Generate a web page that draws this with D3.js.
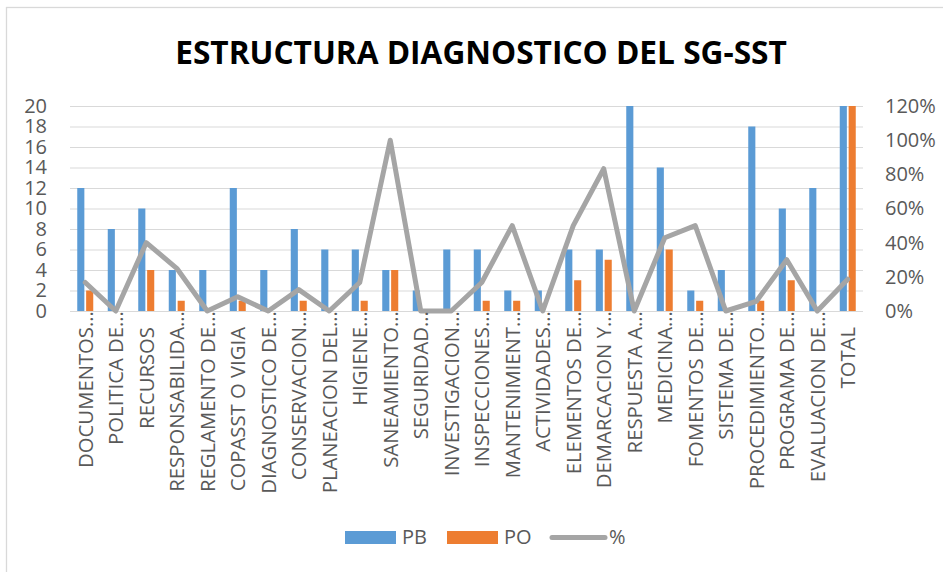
<!DOCTYPE html>
<html>
<head>
<meta charset="utf-8">
<script src="https://cdnjs.cloudflare.com/ajax/libs/d3/7.8.5/d3.min.js"></script>
<style>
  html, body { margin: 0; padding: 0; background: #fff; }
  svg { display: block; }
  text { font-family: "Open Sans", "DejaVu Sans", sans-serif; }
</style>
</head>
<body>
<svg id="chart" width="943" height="572"></svg>
<script>
// ---- data ----
const categories = [
  "DOCUMENTOS…", "POLITICA DE…", "RECURSOS", "RESPONSABILIDA…", "REGLAMENTO DE…",
  "COPASST O VIGIA", "DIAGNOSTICO DE…", "CONSERVACION…", "PLANEACION DEL…", "HIGIENE…",
  "SANEAMIENTO…", "SEGURIDAD…", "INVESTIGACION…", "INSPECCIONES…", "MANTENIMIENT…",
  "ACTIVIDADES…", "ELEMENTOS DE…", "DEMARCACION Y…", "RESPUESTA A…", "MEDICINA…",
  "FOMENTOS DE…", "SISTEMA DE…", "PROCEDIMIENTO…", "PROGRAMA DE…", "EVALUACION DE…", "TOTAL"
];
const pbValues = [12, 8, 10, 4, 4, 12, 4, 8, 6, 6, 4, 2, 6, 6, 2, 2, 6, 6, 20, 14, 2, 4, 18, 10, 12, 20];
const poValues = [2, 0, 4, 1, 0, 1, 0, 1, 0, 1, 4, 0, 0, 1, 1, 0, 3, 5, 0, 6, 1, 0, 1, 3, 0, 20];
const pctValues = [16.7, 0, 40, 25, 0, 8.3, 0, 12.5, 0, 16.7, 100, 0, 0, 16.7, 50, 0, 50, 83.3, 0, 42.9, 50, 0, 5.6, 30, 0, 18.6];
const leftTicks = [0, 2, 4, 6, 8, 10, 12, 14, 16, 18, 20];
const rightTicks = [0, 20, 40, 60, 80, 100, 120];
const seriesNames = ["PB", "PO", "%"];
const title = "ESTRUCTURA DIAGNOSTICO DEL SG-SST";

// ---- styles ----
const colPB = "#5B9BD5", colPO = "#ED7D31", colPct = "#A5A5A5";
const textCol = "#595959", gridCol = "#D9D9D9";

const svg = d3.select("#chart");
svg.append("rect").attr("width", 943).attr("height", 572).attr("fill", "#fff");
// chart frame (only top/left visible in the crop)
svg.append("rect").attr("x", 6.5).attr("y", 7.5).attr("width", 1000).attr("height", 1000)
  .attr("fill", "none").attr("stroke", gridCol).attr("stroke-width", 1.3);

const plot = { left: 70, right: 863, top: 106, bottom: 311 };

// title
const t = svg.append("text").attr("x", 481).attr("y", 64)
  .attr("text-anchor", "middle").attr("font-weight", "bold")
  .attr("font-size", 32).attr("fill", "#000").text(title);
const tw = t.node().getComputedTextLength();
t.attr("font-size", 32 * 612 / tw);

const x0 = d3.scaleBand().domain(categories).range([plot.left, plot.right]).padding(0);
const x1 = d3.scaleBand().domain(["PB", "PO"]).range([-8, 8]).paddingInner(0.2);
const yL = d3.scaleLinear().domain([0, 20]).range([plot.bottom, plot.top]);
const yR = d3.scaleLinear().domain([0, 120]).range([plot.bottom, plot.top]);

// gridlines
svg.append("g").selectAll("line").data(leftTicks).join("line")
  .attr("x1", plot.left).attr("x2", plot.right)
  .attr("y1", d => yL(d) + 0.5).attr("y2", d => yL(d) + 0.5)
  .attr("stroke", gridCol).attr("stroke-width", 1.2);

// left axis labels
const axL = svg.append("g").attr("transform", `translate(${plot.left - 23},0)`)
  .call(d3.axisLeft(yL).tickValues(leftTicks).tickSize(0).tickPadding(0));
axL.select(".domain").remove();
axL.selectAll("text").attr("font-size", 20).attr("fill", textCol)
  .attr("font-family", "'Open Sans', sans-serif");

// right axis labels
const axR = svg.append("g").attr("transform", `translate(${plot.right + 22},0)`)
  .call(d3.axisRight(yR).tickValues(rightTicks).tickSize(0).tickPadding(0).tickFormat(d => d + "%"));
axR.select(".domain").remove();
axR.selectAll("text").attr("font-size", 20).attr("fill", textCol)
  .attr("font-family", "'Open Sans', sans-serif");

// bars
const groups = svg.append("g").selectAll("g").data(categories).join("g")
  .attr("transform", d => `translate(${x0(d) + x0.bandwidth() / 2},0)`);
groups.append("rect")
  .attr("x", x1("PB")).attr("width", x1.bandwidth())
  .attr("y", (d, i) => yL(pbValues[i])).attr("height", (d, i) => yL(0) - yL(pbValues[i]))
  .attr("fill", colPB);
groups.append("rect")
  .attr("x", x1("PO")).attr("width", x1.bandwidth())
  .attr("y", (d, i) => yL(poValues[i])).attr("height", (d, i) => yL(0) - yL(poValues[i]))
  .attr("fill", colPO);

// line
const line = d3.line()
  .x((d, i) => x0(categories[i]) + x0.bandwidth() / 2)
  .y(d => yR(d));
svg.append("path").datum(pctValues).attr("d", line)
  .attr("fill", "none").attr("stroke", colPct).attr("stroke-width", 5)
  .attr("stroke-linejoin", "round").attr("stroke-linecap", "round");

// category labels (rotated)
const labTop = 327;
const labFont = 20.3;
const labs = svg.append("g").selectAll("g").data(categories).join("g")
  .attr("transform", d => `translate(${x0(d) + x0.bandwidth() / 2},${labTop}) rotate(-90)`);
labs.append("text")
  .attr("text-anchor", "end").attr("dy", "0.36em")
  .attr("font-size", labFont).attr("fill", textCol)
  .text(d => d.endsWith("…") ? d.slice(0, -1) : d);
labs.filter(d => d.endsWith("…")).append("text")
  .attr("text-anchor", "start").attr("dy", "0.36em")
  .attr("font-size", labFont).attr("fill", textCol).text("…");

// legend
const leg = svg.append("g");
leg.append("rect").attr("x", 345).attr("y", 531).attr("width", 51).attr("height", 13).attr("fill", colPB);
leg.append("text").attr("x", 402).attr("y", 544).attr("font-size", 20).attr("fill", textCol).text(seriesNames[0]);
leg.append("rect").attr("x", 447).attr("y", 531).attr("width", 51).attr("height", 13).attr("fill", colPO);
leg.append("text").attr("x", 504).attr("y", 544).attr("font-size", 20).attr("fill", textCol).text(seriesNames[1]);
leg.append("line").attr("x1", 552).attr("x2", 605).attr("y1", 537.5).attr("y2", 537.5)
  .attr("stroke", colPct).attr("stroke-width", 5).attr("stroke-linecap", "round");
leg.append("text").attr("x", 609).attr("y", 544).attr("font-size", 20).attr("fill", textCol).text(seriesNames[2]);
</script>
</body>
</html>
